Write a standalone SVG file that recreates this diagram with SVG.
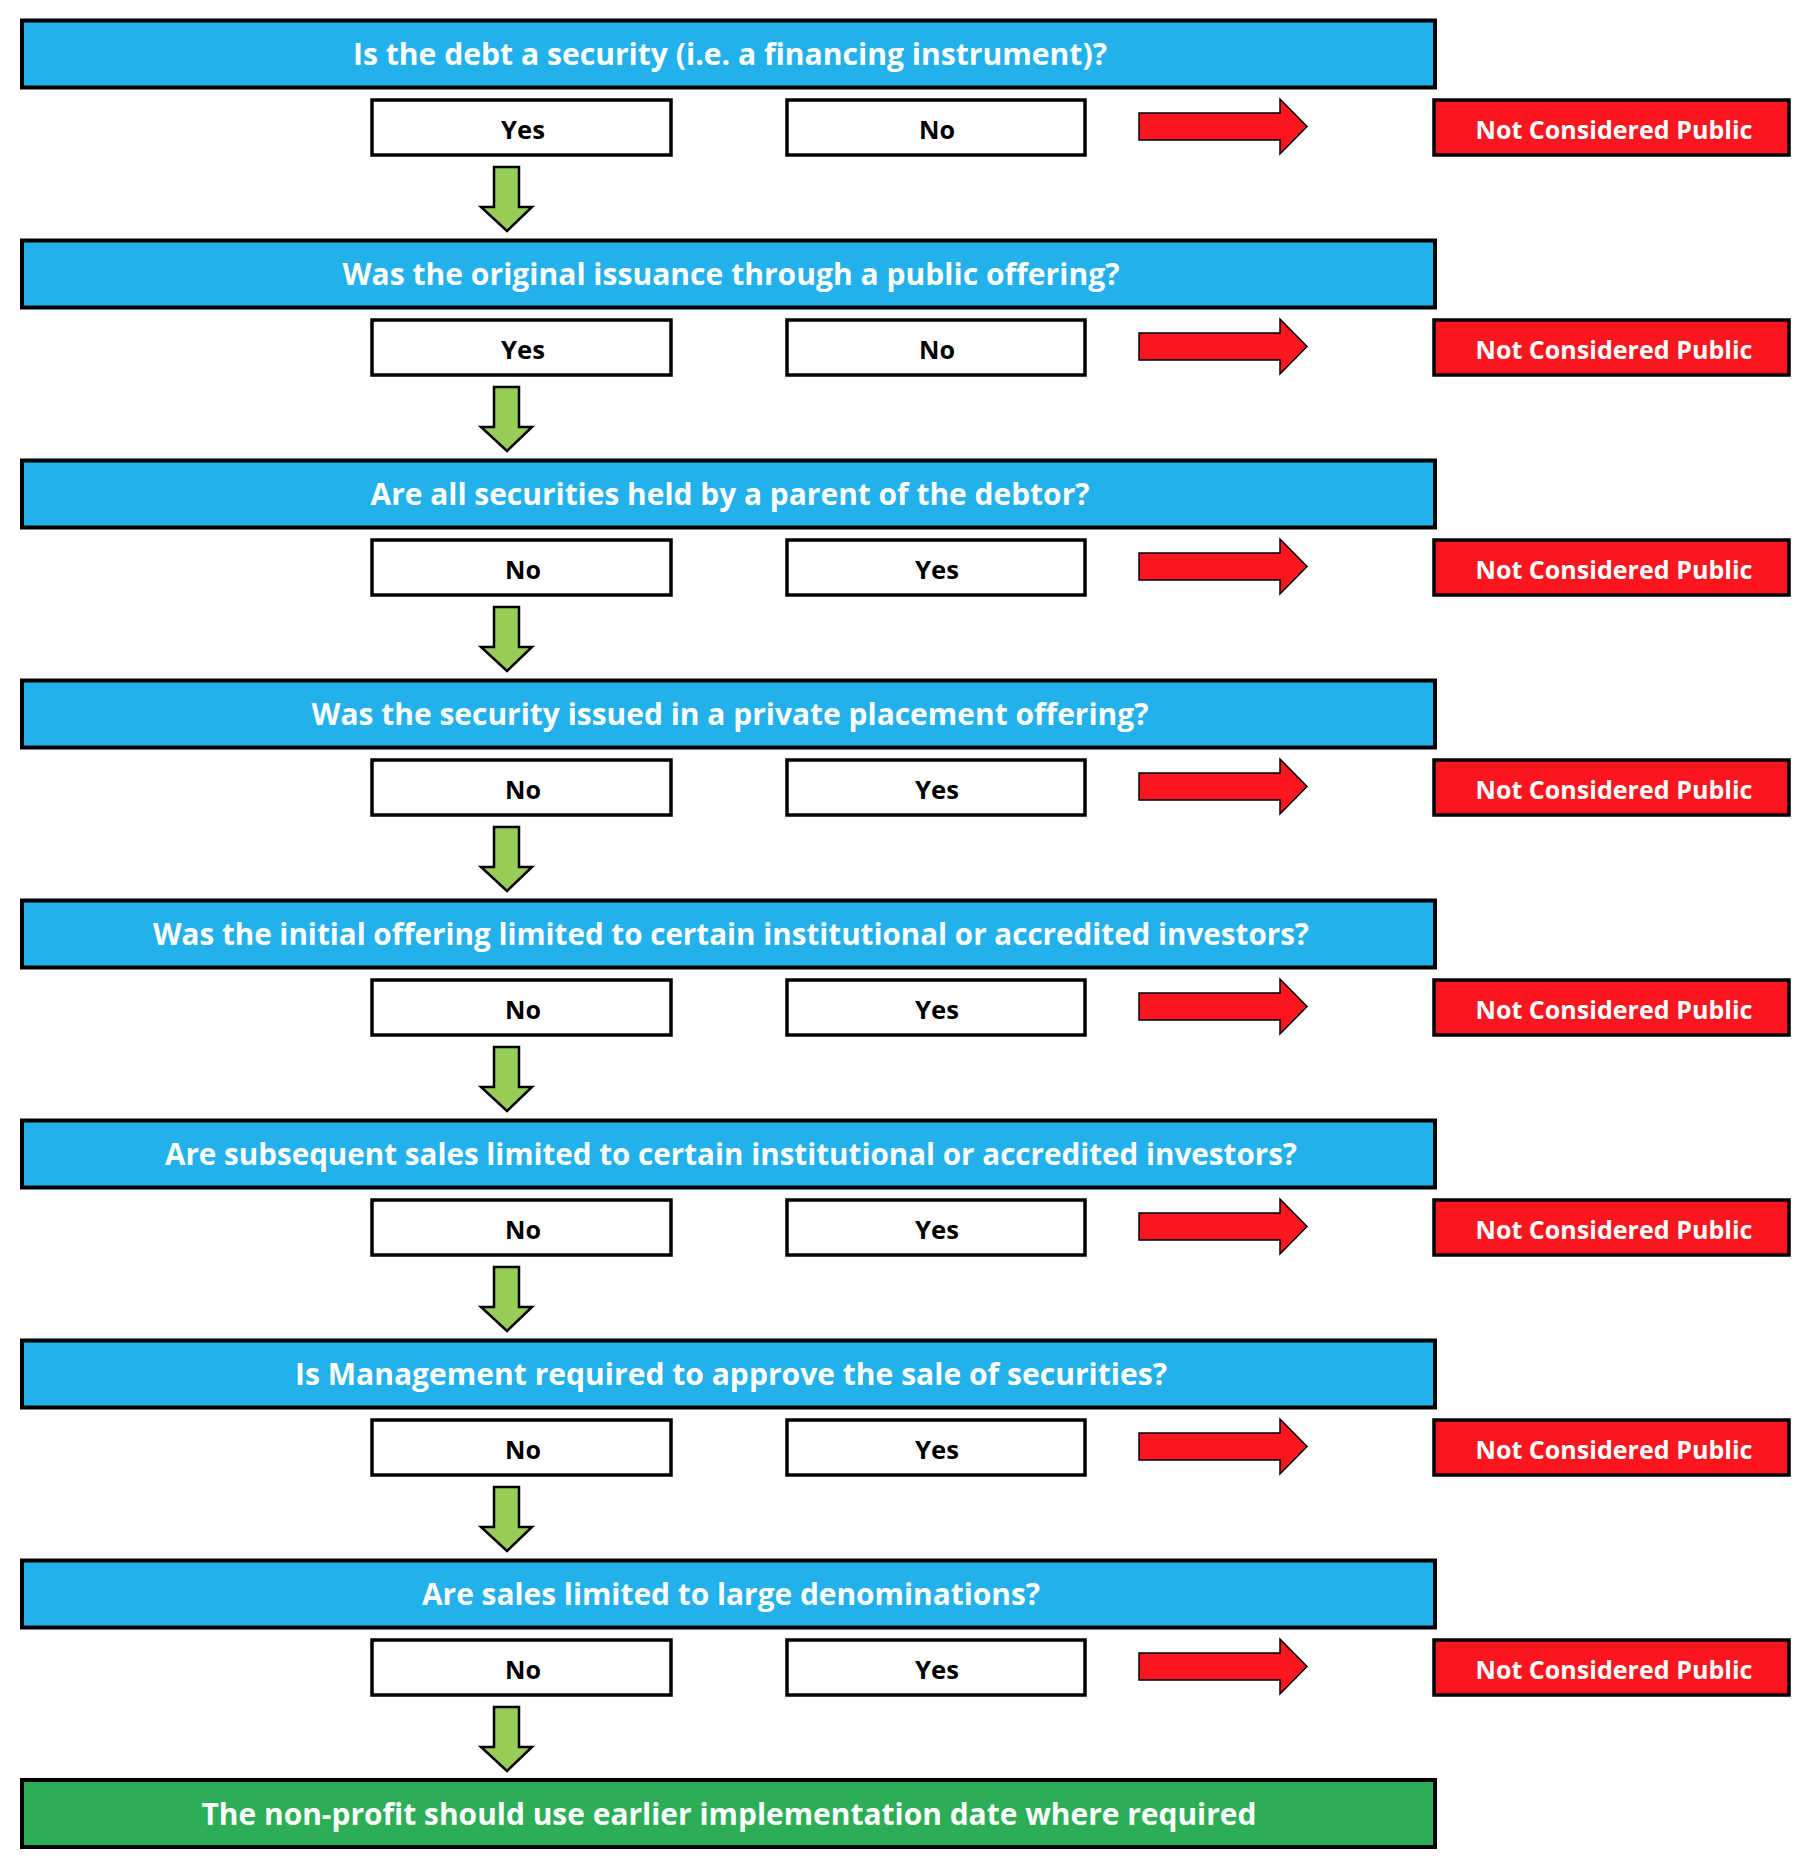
<svg xmlns="http://www.w3.org/2000/svg" width="1810" height="1870" viewBox="0 0 1810 1870">
<style>
.q{fill:#23B1EC;stroke:#000;stroke-width:4}
.fin{fill:#2CAE57;stroke:#000;stroke-width:4}
.opt{fill:#fff;stroke:#000;stroke-width:3.5}
.res{fill:#FB1620;stroke:#000;stroke-width:3.5}
.qt{font-family:"Open Sans","Liberation Sans",sans-serif;font-weight:bold;font-size:30.5px;fill:#fff;text-anchor:middle}
.ot{font-family:"Open Sans","Liberation Sans",sans-serif;font-weight:bold;font-size:25px;fill:#000;text-anchor:middle}
.rt{font-family:"Open Sans","Liberation Sans",sans-serif;font-weight:bold;font-size:25px;fill:#fff;text-anchor:middle}
.ga{fill:#98CD57;stroke:#000;stroke-width:2.5;stroke-linejoin:miter}
.ra{fill:#FB1620;stroke:#000;stroke-width:1.5}
</style>
<defs>
<path id="garrow" d="M494,167 L519,167 L519,207 L532,207 L507,231 L481,207 L494,207 Z"/>
<path id="rarrow" d="M1139,113 L1280,113 L1280,99 L1307,126.5 L1280,154 L1280,140 L1139,140 Z"/>
</defs>

<g id="q1">
<rect class="q" x="22" y="20.5" width="1413" height="67"/>
<text class="qt" x="730" y="65" textLength="754" lengthAdjust="spacingAndGlyphs">Is the debt a security (i.e. a financing instrument)?</text>
</g>
<g id="q1-yes"><rect class="opt" x="372" y="100" width="299" height="55"/><text class="ot" x="523" y="139" textLength="44" lengthAdjust="spacingAndGlyphs">Yes</text></g>
<g id="q1-no"><rect class="opt" x="787" y="100" width="298" height="55"/><text class="ot" x="937" y="139" textLength="36" lengthAdjust="spacingAndGlyphs">No</text></g>
<g id="r1"><rect class="res" x="1434" y="100" width="355" height="55"/><text class="rt" x="1614" y="139" textLength="277" lengthAdjust="spacingAndGlyphs">Not Considered Public</text></g>

<g transform="translate(0,220)">
<g id="q2">
<rect class="q" x="22" y="20.5" width="1413" height="67"/>
<text class="qt" x="731" y="65" textLength="777" lengthAdjust="spacingAndGlyphs">Was the original issuance through a public offering?</text>
</g>
<g id="q2-yes"><rect class="opt" x="372" y="100" width="299" height="55"/><text class="ot" x="523" y="139" textLength="44" lengthAdjust="spacingAndGlyphs">Yes</text></g>
<g id="q2-no"><rect class="opt" x="787" y="100" width="298" height="55"/><text class="ot" x="937" y="139" textLength="36" lengthAdjust="spacingAndGlyphs">No</text></g>
<g id="r2"><rect class="res" x="1434" y="100" width="355" height="55"/><text class="rt" x="1614" y="139" textLength="277" lengthAdjust="spacingAndGlyphs">Not Considered Public</text></g>
</g>

<g transform="translate(0,440)">
<g id="q3">
<rect class="q" x="22" y="20.5" width="1413" height="67"/>
<text class="qt" x="730" y="65" textLength="719" lengthAdjust="spacingAndGlyphs">Are all securities held by a parent of the debtor?</text>
</g>
<g id="q3-no"><rect class="opt" x="372" y="100" width="299" height="55"/><text class="ot" x="523" y="139" textLength="36" lengthAdjust="spacingAndGlyphs">No</text></g>
<g id="q3-yes"><rect class="opt" x="787" y="100" width="298" height="55"/><text class="ot" x="937" y="139" textLength="44" lengthAdjust="spacingAndGlyphs">Yes</text></g>
<g id="r3"><rect class="res" x="1434" y="100" width="355" height="55"/><text class="rt" x="1614" y="139" textLength="277" lengthAdjust="spacingAndGlyphs">Not Considered Public</text></g>
</g>

<g transform="translate(0,660)">
<g id="q4">
<rect class="q" x="22" y="20.5" width="1413" height="67"/>
<text class="qt" x="730" y="65" textLength="837" lengthAdjust="spacingAndGlyphs">Was the security issued in a private placement offering?</text>
</g>
<g id="q4-no"><rect class="opt" x="372" y="100" width="299" height="55"/><text class="ot" x="523" y="139" textLength="36" lengthAdjust="spacingAndGlyphs">No</text></g>
<g id="q4-yes"><rect class="opt" x="787" y="100" width="298" height="55"/><text class="ot" x="937" y="139" textLength="44" lengthAdjust="spacingAndGlyphs">Yes</text></g>
<g id="r4"><rect class="res" x="1434" y="100" width="355" height="55"/><text class="rt" x="1614" y="139" textLength="277" lengthAdjust="spacingAndGlyphs">Not Considered Public</text></g>
</g>

<g transform="translate(0,880)">
<g id="q5">
<rect class="q" x="22" y="20.5" width="1413" height="67"/>
<text class="qt" x="731" y="65" textLength="1156" lengthAdjust="spacingAndGlyphs">Was the initial offering limited to certain institutional or accredited investors?</text>
</g>
<g id="q5-no"><rect class="opt" x="372" y="100" width="299" height="55"/><text class="ot" x="523" y="139" textLength="36" lengthAdjust="spacingAndGlyphs">No</text></g>
<g id="q5-yes"><rect class="opt" x="787" y="100" width="298" height="55"/><text class="ot" x="937" y="139" textLength="44" lengthAdjust="spacingAndGlyphs">Yes</text></g>
<g id="r5"><rect class="res" x="1434" y="100" width="355" height="55"/><text class="rt" x="1614" y="139" textLength="277" lengthAdjust="spacingAndGlyphs">Not Considered Public</text></g>
</g>

<g transform="translate(0,1100)">
<g id="q6">
<rect class="q" x="22" y="20.5" width="1413" height="67"/>
<text class="qt" x="731" y="65" textLength="1132" lengthAdjust="spacingAndGlyphs">Are subsequent sales limited to certain institutional or accredited investors?</text>
</g>
<g id="q6-no"><rect class="opt" x="372" y="100" width="299" height="55"/><text class="ot" x="523" y="139" textLength="36" lengthAdjust="spacingAndGlyphs">No</text></g>
<g id="q6-yes"><rect class="opt" x="787" y="100" width="298" height="55"/><text class="ot" x="937" y="139" textLength="44" lengthAdjust="spacingAndGlyphs">Yes</text></g>
<g id="r6"><rect class="res" x="1434" y="100" width="355" height="55"/><text class="rt" x="1614" y="139" textLength="277" lengthAdjust="spacingAndGlyphs">Not Considered Public</text></g>
</g>

<g transform="translate(0,1320)">
<g id="q7">
<rect class="q" x="22" y="20.5" width="1413" height="67"/>
<text class="qt" x="731" y="65" textLength="872" lengthAdjust="spacingAndGlyphs">Is Management required to approve the sale of securities?</text>
</g>
<g id="q7-no"><rect class="opt" x="372" y="100" width="299" height="55"/><text class="ot" x="523" y="139" textLength="36" lengthAdjust="spacingAndGlyphs">No</text></g>
<g id="q7-yes"><rect class="opt" x="787" y="100" width="298" height="55"/><text class="ot" x="937" y="139" textLength="44" lengthAdjust="spacingAndGlyphs">Yes</text></g>
<g id="r7"><rect class="res" x="1434" y="100" width="355" height="55"/><text class="rt" x="1614" y="139" textLength="277" lengthAdjust="spacingAndGlyphs">Not Considered Public</text></g>
</g>

<g transform="translate(0,1540)">
<g id="q8">
<rect class="q" x="22" y="20.5" width="1413" height="67"/>
<text class="qt" x="731" y="65" textLength="618" lengthAdjust="spacingAndGlyphs">Are sales limited to large denominations?</text>
</g>
<g id="q8-no"><rect class="opt" x="372" y="100" width="299" height="55"/><text class="ot" x="523" y="139" textLength="36" lengthAdjust="spacingAndGlyphs">No</text></g>
<g id="q8-yes"><rect class="opt" x="787" y="100" width="298" height="55"/><text class="ot" x="937" y="139" textLength="44" lengthAdjust="spacingAndGlyphs">Yes</text></g>
<g id="r8"><rect class="res" x="1434" y="100" width="355" height="55"/><text class="rt" x="1614" y="139" textLength="277" lengthAdjust="spacingAndGlyphs">Not Considered Public</text></g>
</g>

<g id="final">
<rect class="fin" x="22" y="1780" width="1413" height="67"/>
<text class="qt" x="729" y="1825" textLength="1055" lengthAdjust="spacingAndGlyphs">The non-profit should use earlier implementation date where required</text>
</g>

<g id="connectors">
<use href="#garrow" class="ga"/>
<use href="#garrow" class="ga" y="220"/>
<use href="#garrow" class="ga" y="440"/>
<use href="#garrow" class="ga" y="660"/>
<use href="#garrow" class="ga" y="880"/>
<use href="#garrow" class="ga" y="1100"/>
<use href="#garrow" class="ga" y="1320"/>
<use href="#garrow" class="ga" y="1540"/>
<use href="#rarrow" class="ra"/>
<use href="#rarrow" class="ra" y="220"/>
<use href="#rarrow" class="ra" y="440"/>
<use href="#rarrow" class="ra" y="660"/>
<use href="#rarrow" class="ra" y="880"/>
<use href="#rarrow" class="ra" y="1100"/>
<use href="#rarrow" class="ra" y="1320"/>
<use href="#rarrow" class="ra" y="1540"/>
</g>
</svg>
